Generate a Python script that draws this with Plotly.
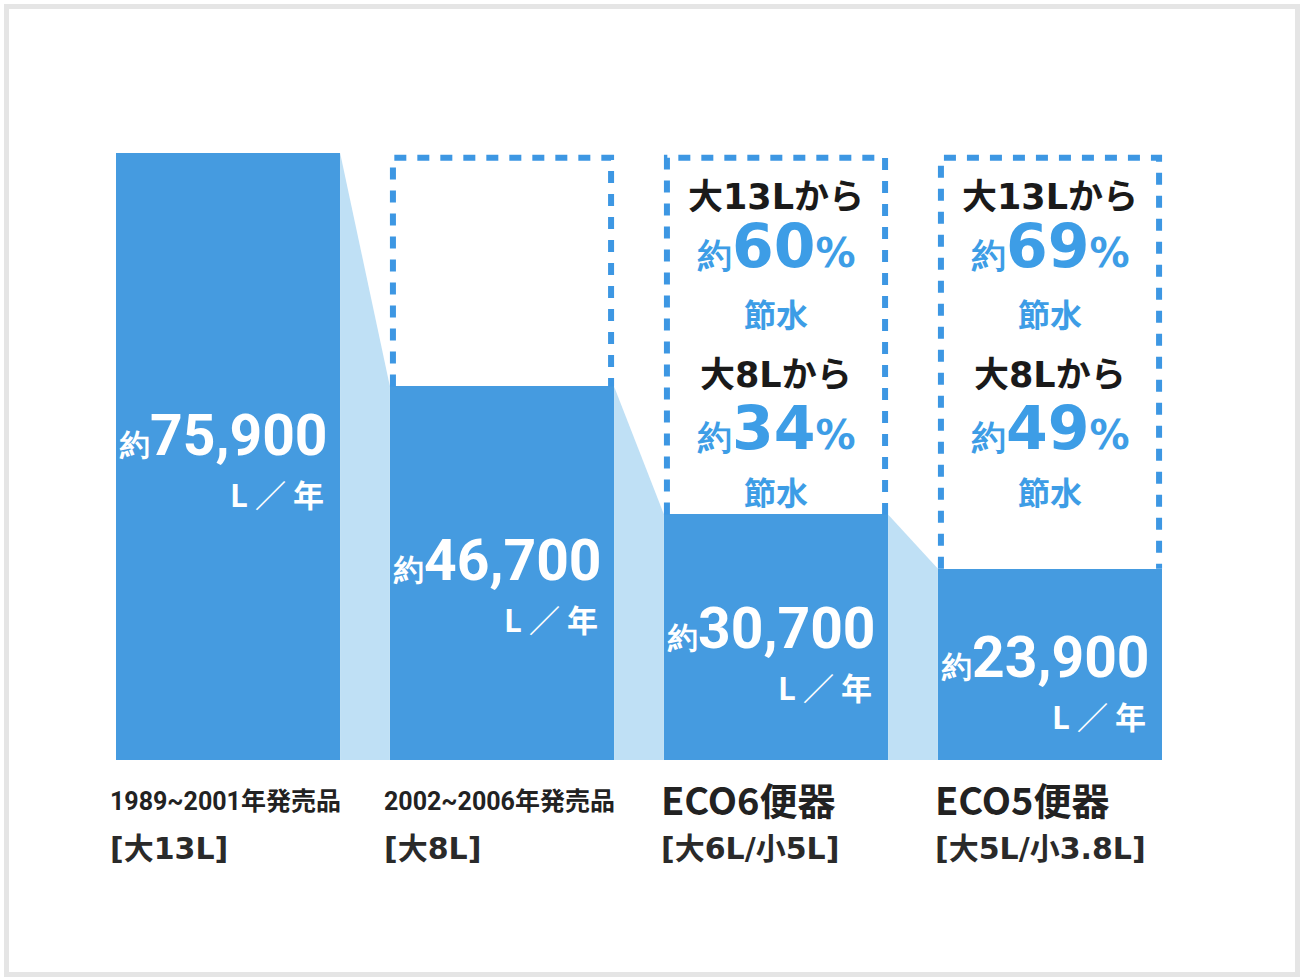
import plotly.graph_objects as go

# ---------------- data ----------------
categories_line1 = ["1989~2001年発売品", "2002~2006年発売品", "ECO6便器", "ECO5便器"]
categories_line2 = ["[大13L]", "[大8L]", "[大6L/小5L]", "[大5L/小3.8L]"]
values = [75900, 46700, 30700, 23900]          # L / 年
value_labels = ["75,900", "46,700", "30,700", "23,900"]
saving_from_13L = [None, None, 60, 69]         # %
saving_from_8L = [None, None, 34, 49]          # %

# ---------------- styles ----------------
BAR = "#459be0"
LIGHT = "#bfe0f5"
DOT = "#3d97e3"
TXT_BLUE = "#3d9de6"
NUMF = "Roboto, Liberation Sans, sans-serif"
WIDE = "DejaVu Sans, Noto Sans CJK JP, sans-serif"
JP = "Noto Sans CJK JP, Noto Sans, sans-serif"
CONDF = "Roboto, Noto Sans CJK JP, sans-serif"
W = 0.818  # bar width in category units

W_PX, H_PX = 1304, 980
ML, MR, MT, MB = 91, 117, 120, 220
YMAX = 80000
plot_h = H_PX - MT - MB
plot_w = W_PX - ML - MR
px_per_unit = plot_h / YMAX
xpx_per_unit = plot_w / 4.0

fig = go.Figure()
n = len(values)
xs = list(range(n))

# connectors between bars
for i in range(n - 1):
    x0 = xs[i] + W / 2
    x1 = xs[i + 1] - W / 2
    fig.add_trace(go.Scatter(
        x=[x0, x1, x1, x0, x0], y=[values[i], values[i + 1], 0, 0, values[i]],
        mode="lines", fill="toself", fillcolor=LIGHT, line=dict(width=0, color=LIGHT),
        hoverinfo="skip", showlegend=False))

# bars
fig.add_trace(go.Bar(x=xs, y=values, width=W, marker=dict(color=BAR, line=dict(width=0)),
                     hoverinfo="skip", showlegend=False))

# dotted boxes up to the first bar's height
inset_x = 3 / xpx_per_unit
inset_top = 5 / px_per_unit
for i in range(1, n):
    l = xs[i] - W / 2 + inset_x
    r = xs[i] + W / 2 - inset_x
    top = values[0] - inset_top
    fig.add_trace(go.Scatter(
        x=[l, l, r, r], y=[values[i], top, top, values[i]], mode="lines",
        line=dict(color=DOT, width=6, dash="12px,11px"),
        hoverinfo="skip", showlegend=False))

ann = []
# value labels in bars
for i in range(n):
    ann.append(dict(
        x=xs[i] + W / 2, y=values[i] * 0.535, xref="x", yref="y",
        xanchor="right", yanchor="middle", xshift=-10, showarrow=False,
        text='<span style="font-size:30px">約</span>' + value_labels[i],
        font=dict(family=NUMF, size=57, color="white", weight="bold")))
    ann.append(dict(
        x=xs[i] + W / 2, y=values[i] * 0.535, xref="x", yref="y",
        xanchor="right", yanchor="middle", xshift=-14, yshift=-58, showarrow=False,
        text="L ／ 年",
        font=dict(family=JP, size=31, color="white", weight="bold")))

# savings text inside dotted boxes
for i in range(n):
    if saving_from_13L[i] is None:
        continue
    blocks = [
        ("大13Lから", 44, None),
        (saving_from_13L[i], 93, "pct"),
        ("節水", 160, "blue"),
        ("大8Lから", 222, None),
        (saving_from_8L[i], 275, "pct"),
        ("節水", 338, "blue"),
    ]
    for t, off, kind in blocks:
        if kind == "pct":
            text = ('<span style="font-size:34px">約</span>' + str(t) +
                    '<span style="font-size:40px">%</span>')
            font = dict(family="DejaVu Sans, Liberation Sans, sans-serif", size=60,
                        color=TXT_BLUE, weight="bold")
        elif kind == "blue":
            text = t
            font = dict(family=JP, size=32, color=TXT_BLUE, weight="bold")
        else:
            text = t
            font = dict(family=WIDE, size=35, color="#1a1a1a", weight="bold")
        ann.append(dict(x=xs[i], y=values[0], xref="x", yref="y", xanchor="center",
                        yanchor="middle", yshift=-off, showarrow=False, text=text, font=font))

# category labels
for i in range(n):
    first_is_year = categories_line1[i][0].isdigit()
    xsh = -8 if first_is_year else -5
    ann.append(dict(
        x=xs[i] - W / 2, y=0, xref="x", yref="y", xanchor="left", yanchor="middle",
        xshift=xsh, yshift=-41 if first_is_year else -38, showarrow=False,
        text=categories_line1[i],
        font=dict(family=CONDF if first_is_year else JP,
                  size=25 if first_is_year else 38, color="#222222", weight="bold")))
    ann.append(dict(
        x=xs[i] - W / 2, y=0, xref="x", yref="y", xanchor="left", yanchor="middle",
        xshift=xsh, yshift=-88, showarrow=False, text=categories_line2[i],
        font=dict(family=WIDE, size=30, color="#2a2a2a", weight="bold")))

# grey frame around the picture
def px_to_paper_x(p):
    return (p - ML) / plot_w

def px_to_paper_y(p):
    return (H_PX - MB - p) / plot_h

shapes = [dict(type="rect", xref="paper", yref="paper",
               x0=px_to_paper_x(6.5), x1=px_to_paper_x(1297.5),
               y0=px_to_paper_y(974.5), y1=px_to_paper_y(6.5),
               line=dict(color="#e5e5e5", width=5), fillcolor="rgba(0,0,0,0)", layer="below")]

fig.update_layout(
    width=W_PX, height=H_PX, autosize=False,
    margin=dict(l=ML, r=MR, t=MT, b=MB, pad=0),
    paper_bgcolor="white", plot_bgcolor="white",
    xaxis=dict(range=[-0.5, 3.5], visible=False, fixedrange=True),
    yaxis=dict(range=[0, YMAX], visible=False, fixedrange=True),
    annotations=ann, shapes=shapes, bargap=0, showlegend=False,
)

fig.write_html("out.html", config={"displayModeBar": False},
               post_script="document.body.style.margin='0';")
